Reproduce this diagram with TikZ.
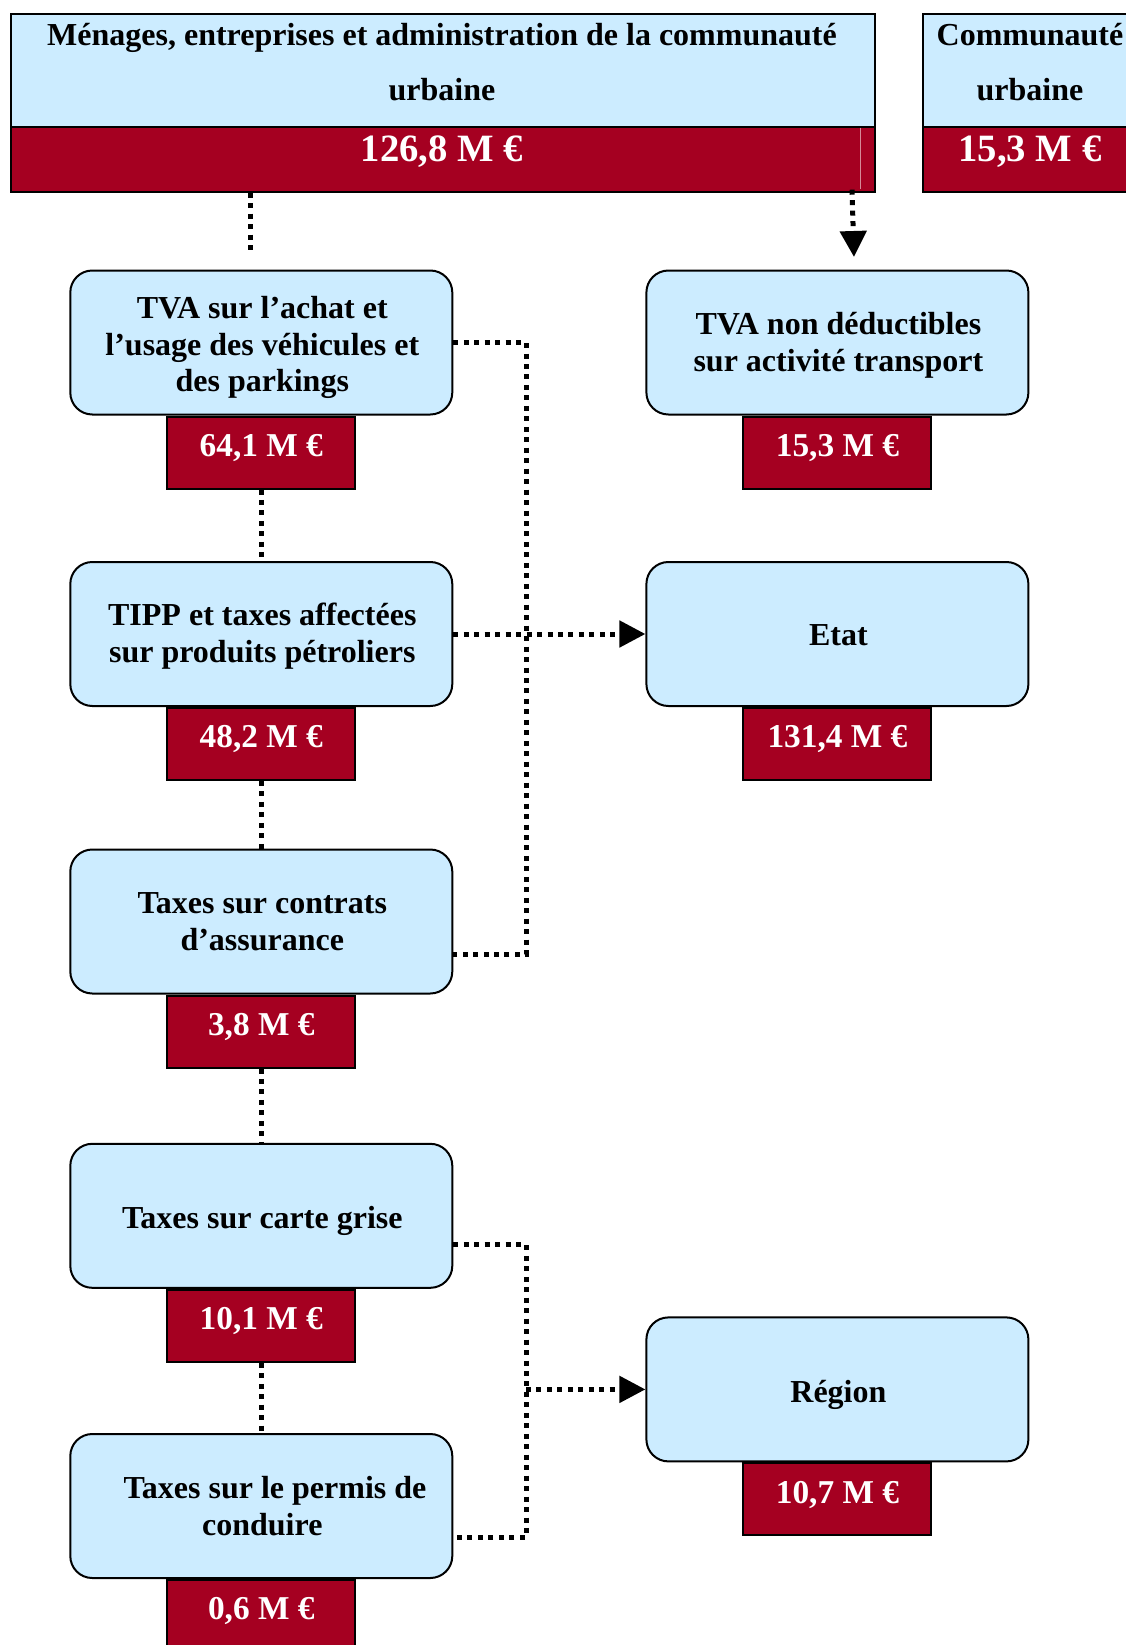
\documentclass[tikz,border=0pt]{standalone}
\usepackage{fontspec}
\setmainfont{Liberation Serif}
\usetikzlibrary{arrows.meta,calc}
\definecolor{lblue}{HTML}{CCECFF}
\definecolor{dred}{HTML}{A50021}
\definecolor{seam}{HTML}{D58A98}
\tikzset{
 bluebox/.style={draw=black, line width=1.5pt, fill=lblue, rounded corners=16.5pt, minimum width=286.5pt, minimum height=108pt, inner sep=0pt},
 btext/.style={align=center, font=\fontsize{24pt}{27.5pt}\selectfont\bfseries, inner sep=0pt},
 valbox/.style={draw=black, line width=1.5pt, fill=dred, minimum width=141pt, minimum height=54pt, text=white, font=\fontsize{25pt}{30pt}\selectfont\bfseries, anchor=north, inner sep=0pt, text depth=11pt},
 topcell/.style={draw=black, line width=1.5pt, fill=lblue, minimum height=84.3pt, inner sep=0pt, anchor=north west},
 topred/.style={draw=black, line width=1.5pt, fill=dred, minimum height=48.75pt, inner sep=0pt, anchor=north west},
 toptext/.style={align=center, font=\fontsize{24pt}{41pt}\selectfont\bfseries, inner sep=0pt},
 topvaltext/.style={text=white, font=\fontsize{29pt}{34pt}\selectfont\bfseries, inner sep=0pt},
 dotline/.style={line width=3.75pt, dash pattern=on 3.75pt off 4.1pt, black},
 dotarrow/.style={dotline, -{Triangle[length=19.5pt,width=19.5pt]}},
}
\begin{document}
\begin{tikzpicture}[x=0.75pt,y=-0.75pt]
\useasboundingbox (0,0) rectangle (1126,1645);
\clip (0,0) rectangle (1126,1645);
% top cells
\node[topcell, minimum width=648pt] (menages) at (10,13.3) {};
\node[topred, minimum width=648pt] (menval) at (10,125.7) {};
\node[topcell, minimum width=162pt] (cu) at (922,13.3) {};
\node[topred, minimum width=162pt] (cuval) at (922,125.7) {};
\draw[seam, line width=0.75pt] (860.7,127.5) -- (860.7,189);
\node[toptext] (mtxt) at (442,62) {Ménages, entreprises et administration de la communauté\\urbaine};
\node[topvaltext] (mvtxt) at (442,152) {126,8 M €};
\node[toptext] (cutxt) at (1030,62) {Communauté\\urbaine};
\node[topvaltext] (cuvtxt) at (1030,152) {15,3 M €};
% boxes
\node[bluebox] (tva) at (261.3,342.5) {};
\node[btext] (tvaT) at ($(tva)+(1,5)$) {TVA sur l’achat et\\l’usage des véhicules et\\des parkings};
\node[valbox] (tvav) at (tva.south) {64,1 M €};
\node[bluebox] (tnd) at (837.4,342.5) {};
\node[btext] (tndT) at ($(tnd)+(1,3)$) {TVA non déductibles\\sur activité transport};
\node[valbox] (tndv) at (tnd.south) {15,3 M €};
\node[bluebox] (tipp) at (261.3,634) {};
\node[btext] (tippT) at ($(tipp)+(1,2)$) {TIPP et taxes affectées\\sur produits pétroliers};
\node[valbox] (tippv) at (tipp.south) {48,2 M €};
\node[bluebox] (etat) at (837.4,634) {};
\node[btext] (etatT) at ($(etat)+(1,1)$) {Etat};
\node[valbox] (etatv) at (etat.south) {131,4 M €};
\node[bluebox] (assur) at (261.3,921.5) {};
\node[btext] (assurT) at ($(assur)+(1,0)$) {Taxes sur contrats\\d’assurance};
\node[valbox] (assurv) at (assur.south) {3,8 M €};
\node[bluebox] (carte) at (261.3,1215.8) {};
\node[btext] (carteT) at ($(carte)+(1,5)$) {Taxes sur carte grise};
\node[valbox] (cartev) at (carte.south) {10,1 M €};
\node[bluebox] (permis) at (261.3,1506) {};
\node[btext] (permisT) at ($(permis)+(1,0)$) {\hspace*{19pt}Taxes sur le permis de\\conduire};
\node[valbox] (permisv) at (permis.south) {0,6 M €};
\node[bluebox] (region) at (837.4,1389.4) {};
\node[btext] (regionT) at ($(region)+(1,5)$) {Région};
\node[valbox] (regionv) at (region.south) {10,7 M €};
% connectors
\coordinate (c1) at (250,255);
\draw[dotline] (menval.south -| c1) -- (c1);
\coordinate (a1) at (854,257);
\draw[dotarrow] ($(menval.south east)+(-24,-3)$) -- (a1);
\draw[dotline] (tvav.south) -- (tvav.south |- tipp.north);
\draw[dotline] (tippv.south) -- (tippv.south |- assur.north);
\draw[dotline] (assurv.south) -- (assurv.south |- carte.north);
\draw[dotline] (cartev.south) -- (cartev.south |- permis.north);
\coordinate (bus) at (526,0);
\draw[dotline] (tva.east) -- (tva.east -| bus) -- ($(assur.east -| bus)+(0,33)$) -- ($(assur.east)+(0,33)$);
\draw[dotarrow] (tipp.east) -- (etat.west);
\draw[dotline] ($(carte.east)+(0,29)$) -- ($(carte.east -| bus)+(0,29)$) -- ($(permis.east -| bus)+(0,31)$) -- ($(permis.east)+(0,31)$);
\draw[dotarrow] (region.west -| bus) -- (region.west);
\end{tikzpicture}
\end{document}
